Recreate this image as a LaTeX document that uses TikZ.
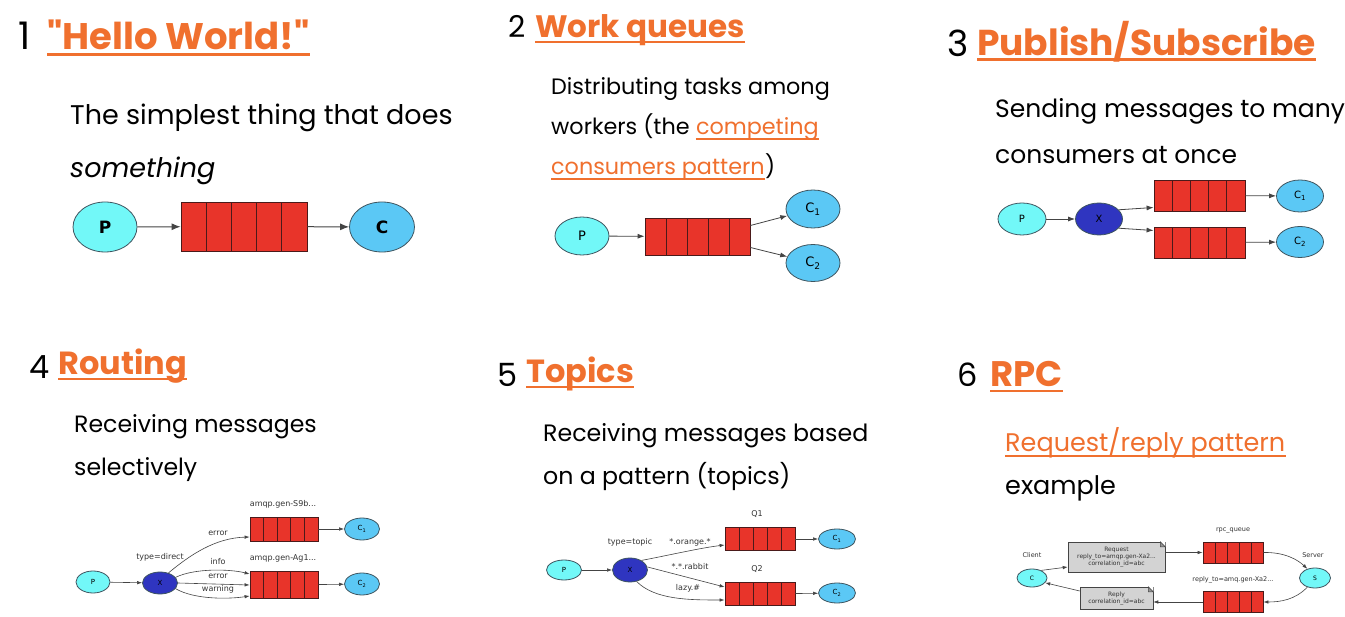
\documentclass[tikz,border=0pt]{standalone}
\usepackage{fontspec}
\setmainfont{Poppins}[Ligatures=TeXOff]
\newfontfamily\dgfont{DejaVu Sans}
\usetikzlibrary{shapes.geometric,arrows.meta,calc}
\definecolor{orng}{HTML}{F0702E}
\definecolor{qred}{HTML}{E8342A}
\definecolor{qborder}{HTML}{4A1A1A}
\definecolor{pcyan}{HTML}{72F8F8}
\definecolor{cblue}{HTML}{5BC8F5}
\definecolor{xblue}{HTML}{2F35C0}
\definecolor{ellgray}{HTML}{3E5560}
\definecolor{linegray}{HTML}{444444}
\definecolor{notegray}{HTML}{D3D3D3}
\definecolor{lblgray}{HTML}{333333}
\begin{document}
\begin{tikzpicture}[x=1pt,y=-1pt,
  ell/.style={ellipse, draw=ellgray, line width=0.8pt, inner sep=0pt, font=\dgfont},
  pnode/.style={ell, fill=pcyan},
  cnode/.style={ell, fill=cblue},
  xnode/.style={ell, fill=xblue},
  queue/.style={rectangle, draw=qborder, fill=qred, line width=0.8pt, inner sep=0pt,
    path picture={\foreach \k in {1,2,3,4}{\draw[qborder, line width=0.8pt]
      ($(path picture bounding box.south west)!\k/5!(path picture bounding box.south east)$) --
      ($(path picture bounding box.north west)!\k/5!(path picture bounding box.north east)$);}}},
  arrA/.style={draw=linegray, line width=1pt, -{Latex[length=9pt,width=7pt]}},
  arrB/.style={draw=linegray, line width=0.8pt, -{Latex[length=7pt,width=5pt]}},
  arrC/.style={draw=linegray, line width=0.6pt, -{Latex[length=5pt,width=3.5pt]}},
  num/.style={anchor=base west, inner sep=0pt, font=\fontsize{#1}{#1}\selectfont},
  ttl/.style={anchor=base west, inner sep=0pt, text=orng, font=\bfseries\fontsize{#1}{#1}\selectfont},
  body/.style={anchor=base west, inner sep=0pt, font=\fontsize{#1}{#1}\selectfont},
  uline/.style={draw=orng, line width=#1},
  lbl/.style={inner sep=0pt, text=lblgray, font=\dgfont\fontsize{#1}{#1}\selectfont},
  note/.style={rectangle, draw=linegray, fill=notegray, line width=0.5pt, inner sep=0pt, align=center, text=lblgray, font=\dgfont\fontsize{6}{7}\selectfont}
]
\useasboundingbox[fill=white] (0,0) rectangle (1345,617);

% ---------- Panel 1 ----------
\node[num=38] (n1) at (18,50) {1};
\node[ttl=37] (t1) at (47,50) {"Hello World!"};
\draw[uline=3pt] ([yshift=-5pt]t1.base west) -- ([yshift=-5pt]t1.base east);
\node[body=27] (b1a) at (70,125) {The simplest thing that does};
\node[body=27] (b1b) at (70,178) {\itshape something};
\node[pnode, minimum width=64pt, minimum height=50pt, font=\dgfont\bfseries\fontsize{17}{17}\selectfont] (p1) at (105,227) {P};
\node[queue, minimum width=126pt, minimum height=49pt] (q1) at (244,226.5) {};
\node[cnode, minimum width=65pt, minimum height=50pt, font=\dgfont\bfseries\fontsize{17}{17}\selectfont] (c1) at (382,227) {C};
\draw[arrA] (p1) -- (q1);
\draw[arrA] (q1) -- (c1);

% ---------- Panel 2 ----------
\node[num=30] (n2) at (508,38) {2};
\node[ttl=31] (t2) at (535,38) {Work queues};
\draw[uline=2.5pt] ([yshift=-4pt]t2.base west) -- ([yshift=-4pt]t2.base east);
\node[body=22.3] (b2a) at (551,95) {Distributing tasks among};
\node[body=22.3] (b2b) at (551,135) {workers (the};
\node[body=22.3, text=orng] (b2c) at ([xshift=6pt]b2b.base east) {competing};
\node[body=22.3, text=orng] (b2d) at (551,175) {consumers pattern};
\node[body=22.3] (b2e) at (b2d.base east) {)};
\draw[uline=1.2pt] ([yshift=-4pt]b2c.base west) -- ([yshift=-4pt]b2c.base east);
\draw[uline=1.2pt] ([yshift=-4pt]b2d.base west) -- ([yshift=-4pt]b2d.base east);
\node[pnode, minimum width=54pt, minimum height=38pt, font=\dgfont\fontsize{13}{13}\selectfont] (p2) at (582,236) {P};
\node[queue, minimum width=105pt, minimum height=37pt] (q2) at (697.5,236.5) {};
\node[cnode, minimum width=54pt, minimum height=38pt, font=\dgfont\fontsize{13}{13}\selectfont] (c21) at (813,209) {C\textsubscript{1}};
\node[cnode, minimum width=54pt, minimum height=37pt, font=\dgfont\fontsize{13}{13}\selectfont] (c22) at (813,263) {C\textsubscript{2}};
\draw[arrB] (p2) -- (q2);
\draw[arrB] ([yshift=11pt]q2.east) -- (c21);
\draw[arrB] ([yshift=-11pt]q2.east) -- (c22);

% ---------- Panel 3 ----------
\node[num=36] (n3) at (947,57) {3};
\node[ttl=36] (t3) at (977,56) {Publish/Subscribe};
\draw[uline=3pt] ([yshift=-4pt]t3.base west) -- ([yshift=-4pt]t3.base east);
\node[body=25] (b3a) at (995,118) {Sending messages to many};
\node[body=25] (b3b) at (995,164) {consumers at once};
\node[pnode, minimum width=48pt, minimum height=32pt, font=\dgfont\fontsize{10}{10}\selectfont] (p3) at (1022,219) {P};
\node[xnode, minimum width=47pt, minimum height=32pt, font=\dgfont\fontsize{10}{10}\selectfont] (x3) at (1099,219) {X};
\node[queue, minimum width=91pt, minimum height=31pt] (q31) at (1199.5,195.5) {};
\node[queue, minimum width=91pt, minimum height=31pt] (q32) at (1199.5,242.5) {};
\node[cnode, minimum width=47pt, minimum height=32pt, font=\dgfont\fontsize{10}{10}\selectfont] (c31) at (1300,196) {C\textsubscript{1}};
\node[cnode, minimum width=47pt, minimum height=31pt, font=\dgfont\fontsize{10}{10}\selectfont] (c32) at (1300,242) {C\textsubscript{2}};
\draw[arrB] (p3) -- (x3);
\draw[arrB] (x3.25) -- ([yshift=-12pt]q31.west);
\draw[arrB] (x3.-25) -- ([yshift=12pt]q32.west);
\draw[arrB] (q31) -- (c31);
\draw[arrB] (q32) -- (c32);

% ---------- Panel 4 ----------
\node[num=32] (n4) at (29,379) {4};
\node[ttl=32] (t4) at (58,375) {Routing};
\draw[uline=2.5pt] ([yshift=-4pt]t4.base west) -- ([yshift=-4pt]t4.base east);
\node[body=23.6] (b4a) at (74,433) {Receiving messages};
\node[body=23.6] (b4b) at (74,476) {selectively};
\node[pnode, minimum width=34pt, minimum height=22pt, font=\dgfont\fontsize{7}{7}\selectfont] (p4) at (93,582) {P};
\node[xnode, minimum width=35pt, minimum height=22pt, font=\dgfont\fontsize{7}{7}\selectfont] (x4) at (160,583) {X};
\node[queue, minimum width=68pt, minimum height=24pt] (q41) at (284,529) {};
\node[queue, minimum width=68pt, minimum height=27pt] (q42) at (284,585) {};
\node[cnode, minimum width=35pt, minimum height=22pt, font=\dgfont\fontsize{7}{7}\selectfont] (c41) at (362,529) {C\textsubscript{1}};
\node[cnode, minimum width=35pt, minimum height=22pt, font=\dgfont\fontsize{7}{7}\selectfont] (c42) at (362,584) {C\textsubscript{2}};
\draw[arrC] (p4) -- (x4);
\draw[arrC] (x4.50) .. controls (190,555) and (215,538) .. ([yshift=-8pt]q41.west);
\draw[arrC] (x4.20) .. controls (195,568) and (230,569) .. ([yshift=11pt]q42.west);
\draw[arrC] (x4.east) -- (q42.west);
\draw[arrC] (x4.-20) .. controls (195,600) and (230,599) .. ([yshift=-11pt]q42.west);
\draw[arrC] (q41) -- (c41);
\draw[arrC] (q42) -- (c42);
\node[lbl=8] (l4a) at (283,504) {amqp.gen-S9b...};
\node[lbl=8] (l4b) at (283,558) {amqp.gen-Ag1...};
\node[lbl=8] (l4c) at (218,533) {error};
\node[lbl=8] (l4d) at (160,557) {type=direct};
\node[lbl=8] (l4e) at (218,562) {info};
\node[lbl=8] (l4f) at (218,576) {error};
\node[lbl=8] (l4g) at (218,589) {warning};

% ---------- Panel 5 ----------
\node[num=32] (n5) at (497,387) {5};
\node[ttl=32] (t5) at (526,383) {Topics};
\draw[uline=2.5pt] ([yshift=-4pt]t5.base west) -- ([yshift=-4pt]t5.base east);
\node[body=23.7] (b5a) at (543,442) {Receiving messages based};
\node[body=23.7] (b5b) at (543,485) {on a pattern (topics)};
\node[pnode, minimum width=35pt, minimum height=20pt, font=\dgfont\fontsize{7}{7}\selectfont] (p5) at (564,570) {P};
\node[xnode, minimum width=35pt, minimum height=24pt, font=\dgfont\fontsize{7}{7}\selectfont] (x5) at (630,570) {X};
\node[queue, minimum width=70pt, minimum height=23pt] (q51) at (760,539) {};
\node[queue, minimum width=70pt, minimum height=23pt] (q52) at (760,594) {};
\node[cnode, minimum width=37pt, minimum height=20pt, font=\dgfont\fontsize{7}{7}\selectfont] (c51) at (837,539) {C\textsubscript{1}};
\node[cnode, minimum width=37pt, minimum height=20pt, font=\dgfont\fontsize{7}{7}\selectfont] (c52) at (837,593) {C\textsubscript{2}};
\draw[arrC] (p5) -- (x5);
\draw[arrC] (x5.40) .. controls (670,555) and (700,548) .. ([yshift=-6pt]q51.west);
\draw[arrC] (x5.10) -- ([yshift=7pt]q52.west);
\draw[arrC] (x5.-60) .. controls (655,600) and (690,600) .. ([yshift=-6pt]q52.west);
\draw[arrC] (q51) -- (c51);
\draw[arrC] (q52) -- (c52);
\node[lbl=8] (l5a) at (757,514) {Q1};
\node[lbl=8] (l5b) at (757,569) {Q2};
\node[lbl=8] (l5c) at (630,542) {type=topic};
\node[lbl=8] (l5d) at (690,542) {*.orange.*};
\node[lbl=8] (l5e) at (690,567) {*.*.rabbit};
\node[lbl=8] (l5f) at (688,588) {lazy.\#};

% ---------- Panel 6 ----------
\node[num=32] (n6) at (957,387) {6};
\node[ttl=35.5] (t6) at (990,387) {RPC};
\draw[uline=2.5pt] ([yshift=-4pt]t6.base west) -- ([yshift=-4pt]t6.base east);
\node[body=25.5, text=orng] (b6a) at (1005,452) {Request/reply pattern};
\draw[uline=1.2pt] ([yshift=-4pt]b6a.base west) -- ([yshift=-4pt]b6a.base east);
\node[body=25.5] (b6b) at (1005,495) {example};
\node[pnode, minimum width=30pt, minimum height=18pt, font=\dgfont\fontsize{6}{6}\selectfont] (c6) at (1032,578) {C};
\node[pnode, minimum width=31pt, minimum height=20pt, font=\dgfont\fontsize{6}{6}\selectfont] (s6) at (1315,578) {S};
\node[note, minimum width=97pt, minimum height=30pt] (req) at (1116.5,557) {Request\\reply\_to=amqp.gen-Xa2...\\correlation\_id=abc};
\node[note, minimum width=73pt, minimum height=22pt] (rep) at (1116.5,598) {Reply\\correlation\_id=abc};
\fill[white] ([xshift=-5pt]req.north east) -- (req.north east) -- ([yshift=-5pt]req.north east) -- cycle;
\draw[linegray, line width=0.5pt, fill=notegray!70!black] ([xshift=-5pt]req.north east) -- ([xshift=-5pt,yshift=-5pt]req.north east) -- ([yshift=-5pt]req.north east) -- cycle;
\fill[white] ([xshift=-5pt]rep.north east) -- (rep.north east) -- ([yshift=-5pt]rep.north east) -- cycle;
\draw[linegray, line width=0.5pt, fill=notegray!70!black] ([xshift=-5pt]rep.north east) -- ([xshift=-5pt,yshift=-5pt]rep.north east) -- ([yshift=-5pt]rep.north east) -- cycle;
\node[queue, minimum width=60pt, minimum height=21pt] (rq) at (1233,552.5) {};
\node[queue, minimum width=60pt, minimum height=21pt] (pq) at (1233,602) {};
\draw[arrC] (c6.40) -- ([yshift=-10pt]req.west);
\draw[arrC] (req.east |- rq.west) -- (rq.west);
\draw[arrC] (rq.east) .. controls (1285,552) and (1298,560) .. (s6.130);
\draw[arrC] (s6.-130) .. controls (1295,600) and (1280,602) .. (pq.east);
\draw[arrC] (pq.west) -- (rep.east |- pq.west);
\draw[arrC] ([yshift=7pt]rep.west) -- (c6.-20);
\node[lbl=6.5] (l6a) at (1032,555) {Client};
\node[lbl=6.5] (l6b) at (1313,555) {Server};
\node[lbl=6.5] (l6c) at (1233,530) {rpc\_queue};
\node[lbl=6.5] (l6d) at (1233,580) {reply\_to=amq.gen-Xa2...};
\end{tikzpicture}
\end{document}
